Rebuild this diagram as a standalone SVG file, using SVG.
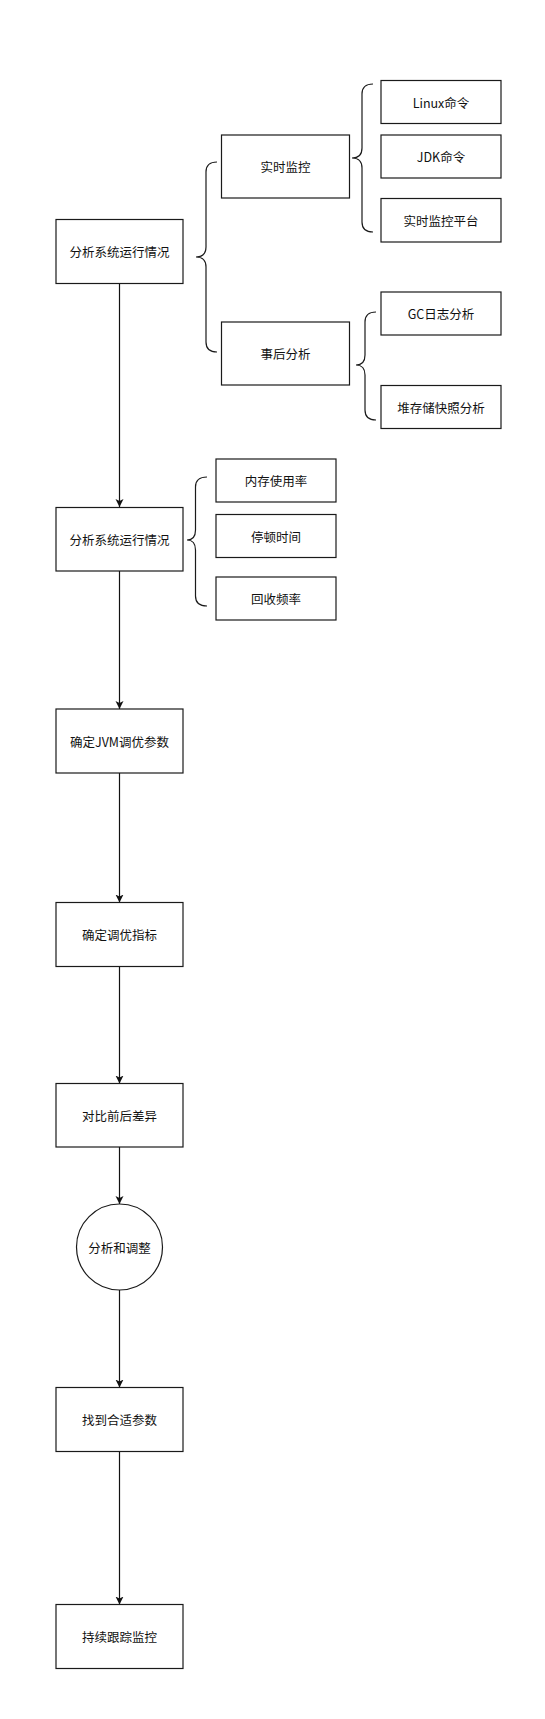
<svg xmlns="http://www.w3.org/2000/svg" width="545" height="1719" viewBox="0 0 545 1719">
<style>
.box{fill:#fff;stroke:#1a1a1a;stroke-width:1.2}
.t{font-family:"Noto Sans CJK SC","Liberation Sans",sans-serif;font-size:12.5px;fill:#111;text-anchor:middle;dominant-baseline:central}
.edge{fill:none;stroke:#111;stroke-width:1.2}
.brace{fill:none;stroke:#1a1a1a;stroke-width:1.2}
</style>
<defs>
<marker id="arr" markerWidth="10" markerHeight="10" refX="8" refY="4" orient="auto" markerUnits="userSpaceOnUse">
<path d="M0,0 L8,4 L0,8 L2,4 Z" fill="#111"/>
</marker>
</defs>
<rect width="545" height="1719" fill="#fff"/>
<g id="connectors">
<path class="edge" d="M119.5,283.5 L119.5,507" marker-end="url(#arr)"/>
<path class="edge" d="M119.5,571 L119.5,709" marker-end="url(#arr)"/>
<path class="edge" d="M119.5,773 L119.5,902.5" marker-end="url(#arr)"/>
<path class="edge" d="M119.5,966.5 L119.5,1083.5" marker-end="url(#arr)"/>
<path class="edge" d="M119.5,1147 L119.5,1204" marker-end="url(#arr)"/>
<path class="edge" d="M119.5,1290 L119.5,1387.5" marker-end="url(#arr)"/>
<path class="edge" d="M119.5,1451.5 L119.5,1604.5" marker-end="url(#arr)"/>
</g>
<g id="braces">
<path class="brace" d="M217,162 Q206,162 206,172 L206,247 Q206,257 196,257 Q206,257 206,267 L206,342 Q206,352 217,352"/>
<path class="brace" d="M373,84 Q362,84 362,94 L362,148 Q362,158 352,158 Q362,158 362,168 L362,222 Q362,232 373,232"/>
<path class="brace" d="M376,312 Q365,312 365,322 L365,355 Q365,365 356,365 Q365,365 365,375 L365,410 Q365,420 376,420"/>
<path class="brace" d="M207,477 Q195.5,477 195.5,487 L195.5,530 Q195.5,540 187,540 Q195.5,540 195.5,550 L195.5,596 Q195.5,606 207,606"/>
</g>
<g id="n1"><rect class="box" x="56" y="219.5" width="127" height="64"/><text class="t" x="119.5" y="251.5">分析系统运行情况</text></g>
<g id="n2"><rect class="box" x="221.5" y="135" width="128" height="63"/><text class="t" x="285.5" y="166.5">实时监控</text></g>
<g id="n3"><rect class="box" x="221.5" y="322" width="128" height="63"/><text class="t" x="285.5" y="353.5">事后分析</text></g>
<g id="n4"><rect class="box" x="381" y="80.5" width="120" height="43"/><text class="t" x="441" y="102">Linux命令</text></g>
<g id="n5"><rect class="box" x="381" y="135" width="120" height="43"/><text class="t" x="441" y="156.5">JDK命令</text></g>
<g id="n6"><rect class="box" x="381" y="198.5" width="120" height="43.5"/><text class="t" x="441" y="220">实时监控平台</text></g>
<g id="n7"><rect class="box" x="381" y="292" width="120" height="43"/><text class="t" x="441" y="313.5">GC日志分析</text></g>
<g id="n8"><rect class="box" x="381" y="385.5" width="120" height="43"/><text class="t" x="441" y="407">堆存储快照分析</text></g>
<g id="n9"><rect class="box" x="56" y="507.5" width="127" height="63.5"/><text class="t" x="119.5" y="539">分析系统运行情况</text></g>
<g id="n10"><rect class="box" x="216" y="459" width="120" height="43"/><text class="t" x="276" y="480.5">内存使用率</text></g>
<g id="n11"><rect class="box" x="216" y="514.5" width="120" height="43"/><text class="t" x="276" y="536">停顿时间</text></g>
<g id="n12"><rect class="box" x="216" y="577" width="120" height="43"/><text class="t" x="276" y="598.5">回收频率</text></g>
<g id="n13"><rect class="box" x="56" y="709" width="127" height="64"/><text class="t" x="119.5" y="741">确定JVM调优参数</text></g>
<g id="n14"><rect class="box" x="56" y="902.5" width="127" height="64"/><text class="t" x="119.5" y="934.5">确定调优指标</text></g>
<g id="n15"><rect class="box" x="56" y="1083.5" width="127" height="63.5"/><text class="t" x="119.5" y="1115">对比前后差异</text></g>
<g id="n16"><circle class="box" cx="119.5" cy="1247" r="43"/><text class="t" x="119.5" y="1247">分析和调整</text></g>
<g id="n17"><rect class="box" x="56" y="1387.5" width="127" height="64"/><text class="t" x="119.5" y="1419.5">找到合适参数</text></g>
<g id="n18"><rect class="box" x="56" y="1604.5" width="127" height="64"/><text class="t" x="119.5" y="1636.5">持续跟踪监控</text></g>
</svg>
